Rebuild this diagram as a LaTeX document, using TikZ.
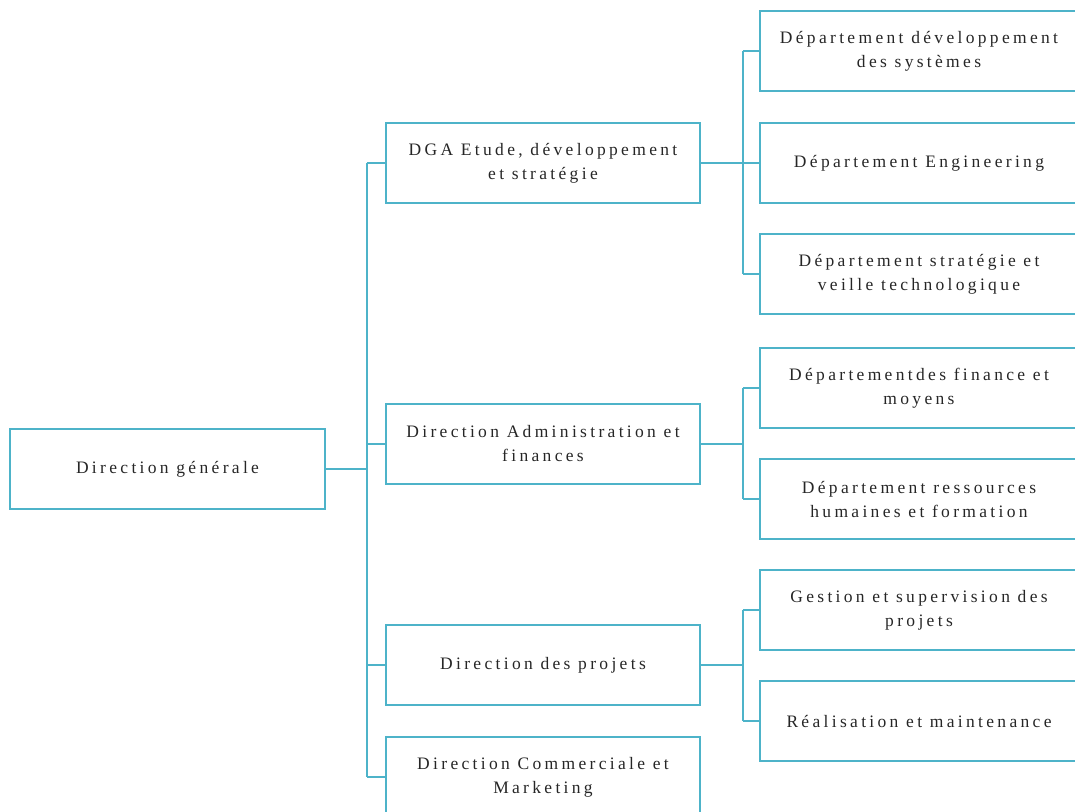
\documentclass[tikz,border=0pt]{standalone}
\usepackage{fontspec}
\setmainfont{Liberation Serif}[LetterSpace=19]
\begin{document}
\begin{tikzpicture}[x=1pt,y=-1pt,
  every node/.style={font=\fontsize{17.5}{24}\selectfont, text=black!85},
  orgbox/.style={draw=boxc, line width=1.6pt, align=center, inner sep=0pt,
    minimum height=80pt},
  topbox/.style={orgbox, minimum width=315pt},
  midbox/.style={orgbox, minimum width=314pt},
  depbox/.style={orgbox, minimum width=318pt},
  link/.style={draw=boxc, line width=1.6pt}]
\definecolor{boxc}{HTML}{4DB3C9}
\useasboundingbox (0,0) rectangle (1075,811);
\clip (0,0) rectangle (1075,811);

% top level
\node[topbox] (dg) at (167.5,469) {Direction générale};

% second level
\node[midbox] (dga) at (543,163) {DGA Etude, développement\\et stratégie};
\node[midbox] (daf) at (543,444) {Direction Administration et\\finances};
\node[midbox] (dpr) at (543,665) {Direction des projets};
\node[midbox] (dcm) at (543,777) {Direction Commerciale et\\Marketing};

% departments
\node[depbox] (ds1) at (919,51) {Département développement\\des systèmes};
\node[depbox] (ds2) at (919,163) {Département Engineering};
\node[depbox] (ds3) at (919,274) {Département stratégie et\\veille technologique};
\node[depbox] (df1) at (919,388) {Départementdes finance et\\moyens};
\node[depbox] (df2) at (919,499) {Département ressources\\humaines et formation};
\node[depbox] (dp1) at (919,610) {Gestion et supervision des\\projets};
\node[depbox] (dp2) at (919,721) {Réalisation et maintenance};

% bus from the general direction to the second level
\draw[link] (dg.east) -- ++(41,0) coordinate (busa);
\draw[link] (busa |- dga.west) -- (busa |- dcm.west);
\foreach \n in {dga,daf,dpr,dcm}
  \draw[link] (busa |- \n.west) -- (\n.west);

% buses from the second level to the departments
\draw[link] (dga.east) -- ++(42,0) coordinate (busb);
\draw[link] (busb |- ds1.west) -- (busb |- ds3.west);
\foreach \n in {ds1,ds2,ds3}
  \draw[link] (busb |- \n.west) -- (\n.west);

\draw[link] (daf.east) -- ++(42,0) coordinate (busc);
\draw[link] (busc |- df1.west) -- (busc |- df2.west);
\foreach \n in {df1,df2}
  \draw[link] (busc |- \n.west) -- (\n.west);

\draw[link] (dpr.east) -- ++(42,0) coordinate (busd);
\draw[link] (busd |- dp1.west) -- (busd |- dp2.west);
\foreach \n in {dp1,dp2}
  \draw[link] (busd |- \n.west) -- (\n.west);
\end{tikzpicture}
\end{document}
